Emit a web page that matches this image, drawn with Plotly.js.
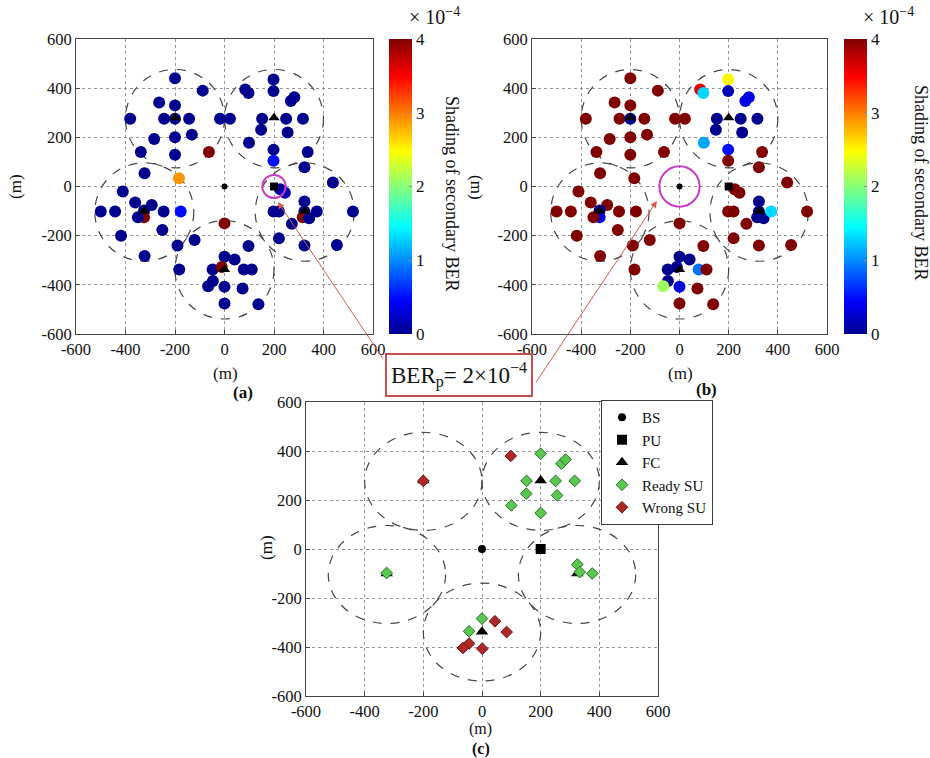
<!DOCTYPE html>
<html><head><meta charset="utf-8">
<script src="https://cdn.plot.ly/plotly-3.0.1.min.js"></script>
<style>html,body{margin:0;padding:0;background:#fff}</style>
</head><body><div id="chart" style="width:930px;height:758px"></div>
<script>
// ---- data ----
const suX = [-200,-88,-264,-200,-381,-244,-200,-143,-18,22,-284,-200,-132,-338,-200,-63,
  198,198,84,97,268,282,152,249,317,148,255,99,198,198,336,
  323,438,225,244,323,198,220,323,316,342,373,519,272,220,323,454,
  -323,-184,-411,-361,-294,-500,-442,-325,-325,-350,-246,-177,-418,-251,-323,-190,
  0,-121,97,0,41,-183,-48,-11,78,110,-47,-66,0,73,0,137];
const suY = [440,390,342,330,276,276,276,276,276,276,193,200,211,140,129,140,
  435,388,395,380,348,363,276,276,276,231,220,178,150,105,140,
  78,16,-11,-25,-61,-102,-102,-102,-125,-129,-102,-102,-152,-211,-240,-238,
  54,34,-20,-65,-75,-102,-102,-98,-125,-125,-102,-102,-200,-177,-283,-240,
  -150,-218,-242,-286,-297,-338,-338,-327,-338,-338,-384,-406,-408,-415,-476,-479];
// secondary BER, units of 1e-4
const berA = [0,0,0,0,0,0,0,0,0,0,0,0,0,0,0,4,
  0,0,0,0,0,0,0,0,0,0,0,0,0,0.5,0,
  0,0,0,0.15,0,0,0,0,4,0,0,0,0,0,0,0,
  0,2.9,0,0,0,0,0,0,4,0,0,0.5,0,0,0,0,
  4,0,0,0,0,0,0,4,0,0,0,0,0,0,0,0];
const berB = [4,4,4,4,4,4,0,4,4,4,4,4,4,4,4,4,
  2.5,0.15,3.6,1.3,0.35,0.35,0,0,0,0,0,1.1,0.5,4,4,
  4,4,4,4,0,4,4,0,0,0,1.3,4,4,4,4,4,
  4,4,4,4,4,4,4,0,0.35,4,4,4,4,4,4,4,
  4,4,4,0,0,4,0,0,0.9,4,0,2.1,0.3,4,4,4];
const bsX = [0], bsY = [0];
const puX = [200], puY = [0];
const fcX = [-200,200,-325,325,0], fcY = [280,280,-100,-100,-338];
const cellX = [-200,200,-324,324,0], cellY = [276,276,-104,-104,-339];
const cellR = 200;
const readyX = [200,271,285,152,251,316,151,256,100,200,-325,325,333,376,0,-44];
const readyY = [389,348,365,278,278,278,226,219,178,147,-98,-63,-94,-100,-284,-336];
const wrongX = [98,-200,44,84,-44,-65,1];
const wrongY = [380,278,-295,-339,-386,-404,-407];
const axTicks = [-600,-400,-200,0,200,400,600];
const axTickText = ['-600','-400','-200','0','200','400','600'];
const cbTicks = [0,1,2,3,4];
const berPrimary = '2×10<sup>−4</sup>';

// ---- styling ----
const FONT = 'Liberation Serif, Times New Roman, serif';
const W = 930, H = 758;
const px = v => v / W, py = v => 1 - v / H;
const jet = [[0,'rgb(0,0,143)'],[0.111,'rgb(0,0,255)'],[0.365,'rgb(0,255,255)'],
             [0.619,'rgb(255,255,0)'],[0.873,'rgb(255,0,0)'],[1,'rgb(128,0,0)']];

function axis(dom, anchor) {
  return {domain: dom, anchor: anchor, range: [-600, 600], tickvals: axTicks, ticktext: axTickText,
    showgrid: true, gridcolor: 'rgb(150,150,150)', griddash: 'dot', gridwidth: 1,
    zeroline: false, showline: true, mirror: true, linecolor: 'rgb(70,70,70)', linewidth: 1,
    ticks: 'inside', ticklen: 4, tickcolor: 'rgb(70,70,70)',
    tickfont: {family: FONT, size: 16.5, color: '#111'}, fixedrange: true};
}

function cbar(xLeft) {
  return {x: px(xLeft), xanchor: 'left', xref: 'paper', y: py(334), yanchor: 'bottom',
    len: 295 / H, lenmode: 'fraction', thickness: 23, thicknessmode: 'pixels',
    tickvals: cbTicks, ticks: 'inside', ticklen: 3, tickcolor: '#888',
    tickfont: {family: FONT, size: 17, color: '#111'}, outlinewidth: 0, xpad: 0, ypad: 0};
}

const traces = [];
function subplotBase(xa, ya, ber, cbLeft) {
  traces.push({x: suX, y: suY, xaxis: xa, yaxis: ya, mode: 'markers', type: 'scatter', showlegend: false,
    marker: {size: 12, color: ber, colorscale: jet, cmin: 0, cmax: 4, showscale: true,
      colorbar: cbar(cbLeft), line: {width: 0}}});
  traces.push({x: bsX, y: bsY, xaxis: xa, yaxis: ya, mode: 'markers', showlegend: false,
    marker: {size: 6, color: 'black', symbol: 'circle'}});
  traces.push({x: puX, y: puY, xaxis: xa, yaxis: ya, mode: 'markers', showlegend: false,
    marker: {size: 8, color: 'black', symbol: 'square'}});
  traces.push({x: fcX, y: fcY, xaxis: xa, yaxis: ya, mode: 'markers', showlegend: false,
    marker: {size: 10, color: 'black', symbol: 'triangle-up'}});
}
subplotBase('x', 'y', berA, 389);
subplotBase('x2', 'y2', berB, 844);

traces.push({x: bsX, y: bsY, xaxis: 'x3', yaxis: 'y3', mode: 'markers', name: 'BS',
  marker: {size: 8, color: 'black', symbol: 'circle'}});
traces.push({x: puX, y: puY, xaxis: 'x3', yaxis: 'y3', mode: 'markers', name: 'PU',
  marker: {size: 10, color: 'black', symbol: 'square'}});
traces.push({x: fcX, y: fcY, xaxis: 'x3', yaxis: 'y3', mode: 'markers', name: 'FC',
  marker: {size: 11, color: 'black', symbol: 'triangle-up'}});
traces.push({x: readyX, y: readyY, xaxis: 'x3', yaxis: 'y3', mode: 'markers', name: 'Ready SU',
  marker: {size: 9, color: 'rgb(90,200,80)', symbol: 'diamond', line: {width: 1, color: 'rgb(40,110,40)'}}});
traces.push({x: wrongX, y: wrongY, xaxis: 'x3', yaxis: 'y3', mode: 'markers', name: 'Wrong SU',
  marker: {size: 9, color: 'rgb(175,40,40)', symbol: 'diamond', line: {width: 1, color: 'rgb(110,20,20)'}}});

const shapes = [];
['x', 'x2', 'x3'].forEach((xa, k) => {
  const ya = ['y', 'y2', 'y3'][k];
  for (let i = 0; i < cellX.length; i++) {
    shapes.push({type: 'circle', xref: xa, yref: ya, layer: 'between',
      x0: cellX[i] - cellR, x1: cellX[i] + cellR, y0: cellY[i] - cellR, y1: cellY[i] + cellR,
      line: {color: 'rgb(70,70,70)', width: 1.2, dash: 'dash'}});
  }
});
// highlight circles
shapes.push({type: 'circle', xref: 'x', yref: 'y', x0: puX[0] - 47, x1: puX[0] + 47, y0: puY[0] - 47, y1: puY[0] + 47,
  line: {color: 'rgb(200,60,200)', width: 2}});
shapes.push({type: 'circle', xref: 'x2', yref: 'y2', x0: bsX[0] - 82, x1: bsX[0] + 82, y0: bsY[0] - 82, y1: bsY[0] + 82,
  line: {color: 'rgb(200,60,200)', width: 2}});

function txt(x, y, t, opt) {
  return Object.assign({xref: 'paper', yref: 'paper', x: px(x), y: py(y), text: t, showarrow: false,
    xanchor: 'center', yanchor: 'middle', font: {family: FONT, size: 17, color: '#111'}}, opt || {});
}
const bigFont = {family: FONT, size: 20, color: '#111'};
const smallFont = {family: FONT, size: 16, color: '#111'};
const annotations = [
  txt(225, 373, '(m)'), txt(680, 373, '(m)'), txt(480, 729, '(m)', {font: smallFont}),
  txt(15, 187, '(m)', {textangle: -90}), txt(477, 187, '(m)', {textangle: 90}),
  txt(266, 548, '(m)', {textangle: -90}),
  txt(243, 392, '<b>(a)</b>'), txt(706, 389, '<b>(b)</b>'), txt(481, 749, '<b>(c)</b>', {font: smallFont}),
  txt(452, 193, 'Shading of secondary BER', {textangle: 90, font: {family: FONT, size: 18, color: '#111'}}),
  txt(921, 182, 'Shading of secondary BER', {textangle: 90, font: {family: FONT, size: 18, color: '#111'}}),
  txt(434, 16, '× 10<sup>−4</sup>', {font: bigFont}),
  txt(888, 16, '× 10<sup>−4</sup>', {font: bigFont}),
  {xref: 'x', yref: 'y', x: 216, y: -63, text: '', showarrow: true, ax: 106, ay: 158,
    arrowhead: 2, arrowsize: 1.3, arrowwidth: 1, arrowcolor: 'rgb(215,90,80)', standoff: 0},
  {xref: 'x2', yref: 'y2', x: -92, y: -59, text: '', showarrow: true, ax: -122, ay: 183,
    arrowhead: 2, arrowsize: 1.3, arrowwidth: 1, arrowcolor: 'rgb(215,90,80)', standoff: 0},
  txt(459, 375, 'BER<sub>p</sub>= ' + berPrimary, {bordercolor: 'rgb(195,80,80)', borderwidth: 2, borderpad: 4,
    bgcolor: 'white', font: {family: FONT, size: 23, color: '#111'}})
];

const layout = {
  width: W, height: H, margin: {l: 0, r: 0, t: 0, b: 0},
  paper_bgcolor: 'white', plot_bgcolor: 'white',
  xaxis: axis([px(76), px(373)], 'y'), yaxis: axis([py(334), py(39)], 'x'),
  xaxis2: axis([px(532), px(827)], 'y2'), yaxis2: axis([py(334), py(39)], 'x2'),
  xaxis3: axis([px(306), px(658)], 'y3'), yaxis3: axis([py(696), py(402)], 'x3'),
  shapes: shapes, annotations: annotations,
  showlegend: true,
  legend: {x: px(601), y: py(400), xanchor: 'left', yanchor: 'top', bgcolor: 'white',
    bordercolor: 'rgb(60,60,60)', borderwidth: 1, font: {family: FONT, size: 15, color: '#111'},
    itemwidth: 30, tracegroupgap: 0}
};
Plotly.newPlot('chart', traces, layout, {displayModeBar: false, staticPlot: true});
</script></body></html>
